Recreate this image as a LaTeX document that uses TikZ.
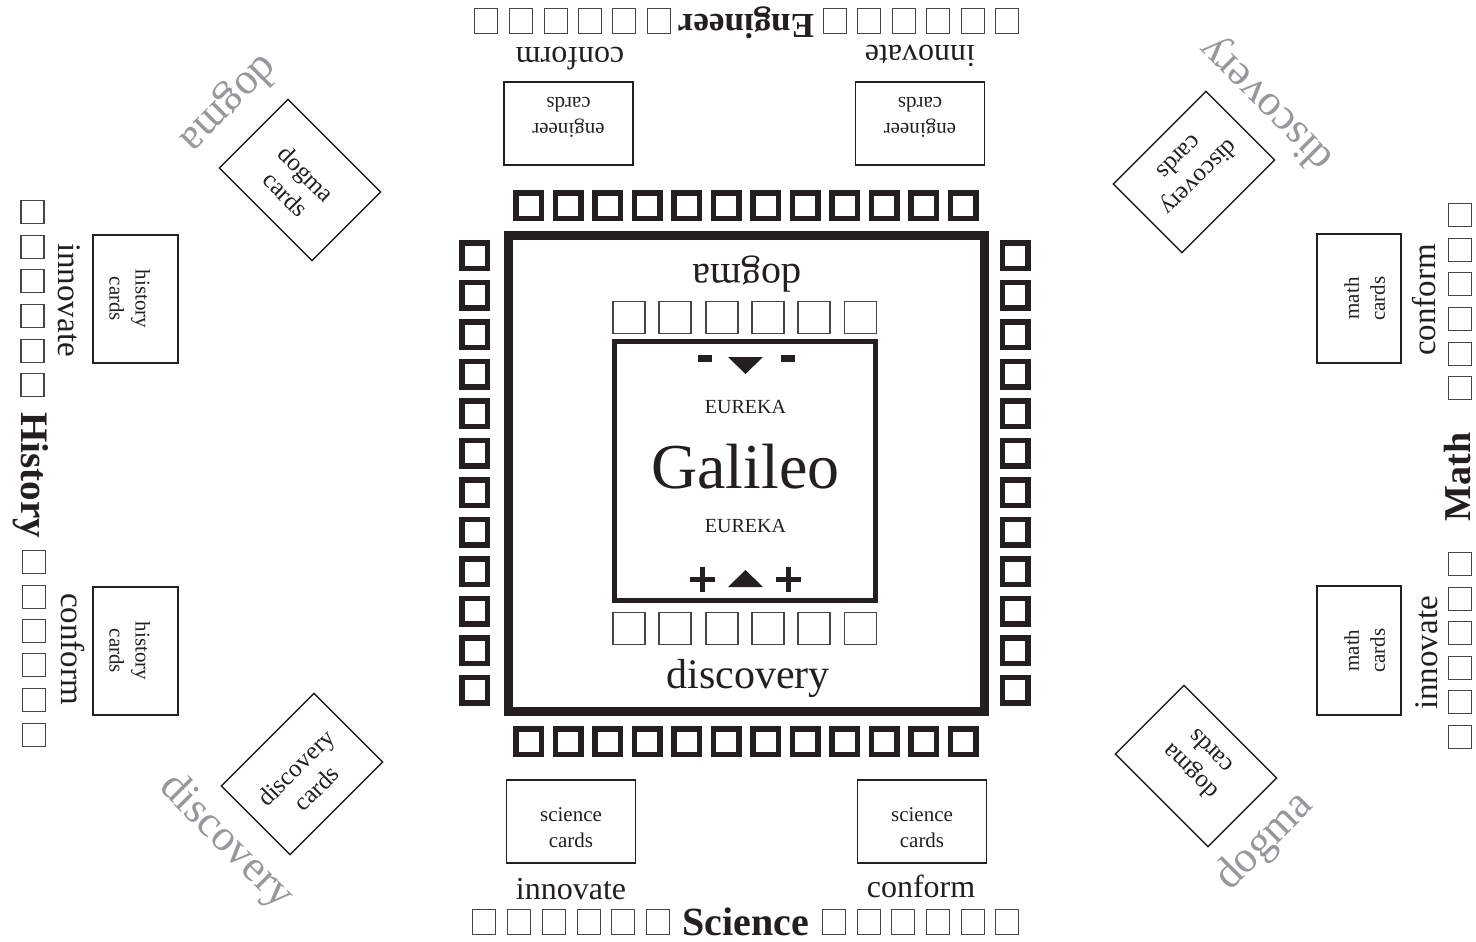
\documentclass[tikz,border=0pt]{standalone}
\usepackage{fontspec}
\setmainfont{Liberation Serif}
\definecolor{ink}{RGB}{35,31,32}
\definecolor{greylab}{RGB}{150,152,155}
\definecolor{boxline}{RGB}{70,70,70}
\newcommand{\fsz}[2]{\fontsize{#1}{#2}\selectfont}
\newcommand{\cardstrut}{\rule{0pt}{26pt}}
\begin{document}
\begin{tikzpicture}[x=1pt,y=-1pt,
  thicksq/.style={draw=ink, line width=5.5pt, minimum width=25.5pt, minimum height=25.5pt, inner sep=0pt, outer sep=0pt},
  innersq/.style={draw=boxline, line width=1.8pt, minimum width=32pt, minimum height=32pt, inner sep=0pt, outer sep=0pt},
  hsq/.style={draw=boxline, line width=1.3pt, minimum width=23pt, minimum height=25pt, inner sep=0pt, outer sep=0pt},
  vsq/.style={draw=boxline, line width=1.3pt, minimum width=23pt, minimum height=23pt, inner sep=0pt, outer sep=0pt},
  card/.style={draw=ink, line width=1.8pt, minimum width=129pt, minimum height=83pt, inner sep=0pt, align=center, text=ink, font=\fsz{21}{26}},
  diag/.style={draw=ink, line width=1.5pt, minimum width=131pt, minimum height=97pt, inner sep=0pt, align=center, text=ink, font=\fsz{25}{29}},
  lab/.style={text=ink, font=\fsz{32}{32}, inner sep=0pt, anchor=base},
  bold/.style={text=ink, font=\fsz{38}{38}\bfseries, inner sep=0pt, anchor=base},
  grey/.style={text=greylab, font=\fsz{44}{44}, inner sep=0pt}
]
\useasboundingbox (0,0) rectangle (1476,942);
\fill[white] (0,0) rectangle (1476,942);

% main thick square
\node[draw=ink, line width=9pt, minimum width=476pt, minimum height=476pt, inner sep=0pt] (board) at (746.5,473.5) {};
% inner square
\node[draw=ink, line width=5pt, minimum width=261pt, minimum height=259pt, inner sep=0pt] (eureka) at (745,471) {};

% thick square rows and columns
\foreach \k in {0,...,11} {
  \node[thicksq] (top\k) at ({528.5+39.5*\k},205.5) {};
  \node[thicksq] (bot\k) at ({528.5+39.5*\k},741.5) {};
  \node[thicksq] (lft\k) at (474.5,{255.5+39.5*\k}) {};
  \node[thicksq] (rgt\k) at (1015,{255.5+39.5*\k}) {};
}
% inner small squares
\foreach \k in {0,...,5} {
  \node[innersq] (it\k) at ({629+46.3*\k},317.5) {};
  \node[innersq] (ib\k) at ({629+46.3*\k},628.5) {};
}

% center texts
\node[text=ink, font=\fsz{40}{40}, inner sep=0pt, anchor=base, rotate=180] (cdogma) at (747,264) {dogma};
\node[text=ink, font=\fsz{42}{42}, inner sep=0pt, anchor=base] (cdisc) at (748,688) {discovery};
\node[text=ink, font=\fsz{20}{20}, inner sep=0pt, anchor=base] (eu1) at (745.5,413) {EUREKA};
\node[text=ink, font=\fsz{64}{64}, inner sep=0pt, anchor=base] (gal) at (745.5,488) {Galileo};
\node[text=ink, font=\fsz{20}{20}, inner sep=0pt, anchor=base] (eu2) at (745.5,532) {EUREKA};

% minus / triangle / plus
\fill[ink] (698,355) rectangle (712,362);
\fill[ink] (781,355) rectangle (795,362);
\fill[ink] (728,357) -- (763,357) -- (745.5,374) -- cycle;
\fill[ink] (728,587) -- (763,587) -- (745.5,570) -- cycle;
\fill[ink] (690,576.5) rectangle (715,581.5);
\fill[ink] (700,566.5) rectangle (705,591.5);
\fill[ink] (776,576.5) rectangle (801,581.5);
\fill[ink] (786,566.5) rectangle (791,591.5);

% ---------- Engineer (top) ----------
\foreach \x [count=\n] in {474,509,544,578,612,647} \node[hsq] (el\n) at ({\x+12},21) {};
\foreach \x [count=\n] in {823,857,892,926,961,995} \node[hsq] (er\n) at ({\x+12},21) {};
\node[bold, font=\fsz{35}{35}\bfseries, rotate=180] (engineer) at (746,15) {Engineer};
\node[lab, rotate=180] (econf) at (570,48) {conform};
\node[lab, rotate=180] (einn) at (920,46) {innovate};
\node[card, rotate=180] (ec1) at (568.5,123.5) {\cardstrut engineer\\cards};
\node[card, rotate=180] (ec2) at (920,123.5) {\cardstrut engineer\\cards};

% ---------- Science (bottom) ----------
\foreach \x [count=\n] in {472,507,542,577,611,646} \node[hsq] (sl\n) at ({\x+12},922) {};
\foreach \x [count=\n] in {822,857,891,926,961,995} \node[hsq] (sr\n) at ({\x+12},922) {};
\node[bold, font=\fsz{40}{40}\bfseries] (science) at (745.5,935) {Science};
\node[lab] (sinn) at (571,899) {innovate};
\node[lab] (sconf) at (921,897) {conform};
\node[card] (sc1) at (571,821.5) {\cardstrut science\\cards};
\node[card] (sc2) at (922,821.5) {\cardstrut science\\cards};

% ---------- History (left) ----------
\foreach \y [count=\n] in {200,235,269,304,339,373} \node[vsq] (ht\n) at (32.5,{\y+12}) {};
\foreach \y [count=\n] in {550,585,619,653,688,723} \node[vsq] (hb\n) at (34,{\y+12}) {};
\node[bold, font=\fsz{39}{39}\bfseries, rotate=-90] (history) at (21,475) {History};
\node[lab, font=\fsz{33}{33}, rotate=-90] (hinn) at (58,300) {innovate};
\node[lab, font=\fsz{33}{33}, rotate=-90] (hconf) at (61,649) {conform};
\node[card, minimum width=128pt, minimum height=85pt, rotate=-90] (hc1) at (135.5,299) {\cardstrut history\\cards};
\node[card, minimum width=128pt, minimum height=85pt, rotate=-90] (hc2) at (135.5,651) {\cardstrut history\\cards};

% ---------- Math (right) ----------
\foreach \y [count=\n] in {203,238,272,307,342,376} \node[vsq] (mt\n) at (1460,{\y+12}) {};
\foreach \y [count=\n] in {552,587,621,656,690,725} \node[vsq] (mb\n) at (1460,{\y+12}) {};
\node[bold, font=\fsz{38}{38}\bfseries, rotate=90] (math) at (1470,477) {Math};
\node[lab, font=\fsz{33}{33}, rotate=90] (mconf) at (1435,300) {conform};
\node[lab, font=\fsz{33}{33}, rotate=90] (minn) at (1437,653) {innovate};
\node[card, minimum width=129pt, minimum height=84pt, rotate=90] (mc1) at (1359,298.5) {\cardstrut math\\cards};
\node[card, minimum width=129pt, minimum height=84pt, rotate=90] (mc2) at (1359,650.5) {\cardstrut math\\cards};

% ---------- diagonal cards ----------
\node[diag, rotate=-45] (dtl) at (300,180) {\rule{0pt}{28pt}dogma\\cards};
\node[diag, rotate=-135] (dtr) at (1194,172) {\rule{0pt}{28pt}discovery\\cards};
\node[diag, rotate=45] (dbl) at (302,774) {\rule{0pt}{28pt}discovery\\cards};
\node[diag, rotate=135] (dbr) at (1196,766) {\rule{0pt}{28pt}dogma\\cards};
\node[grey, rotate=-135] (gtl) at (228,103) {dogma};
\node[grey, rotate=135] (gtr) at (1267,103) {discovery};
\node[grey, rotate=-45] (gbl) at (226,842) {discovery};
\node[grey, rotate=45] (gbr) at (1265,842) {dogma};
\end{tikzpicture}
\end{document}
